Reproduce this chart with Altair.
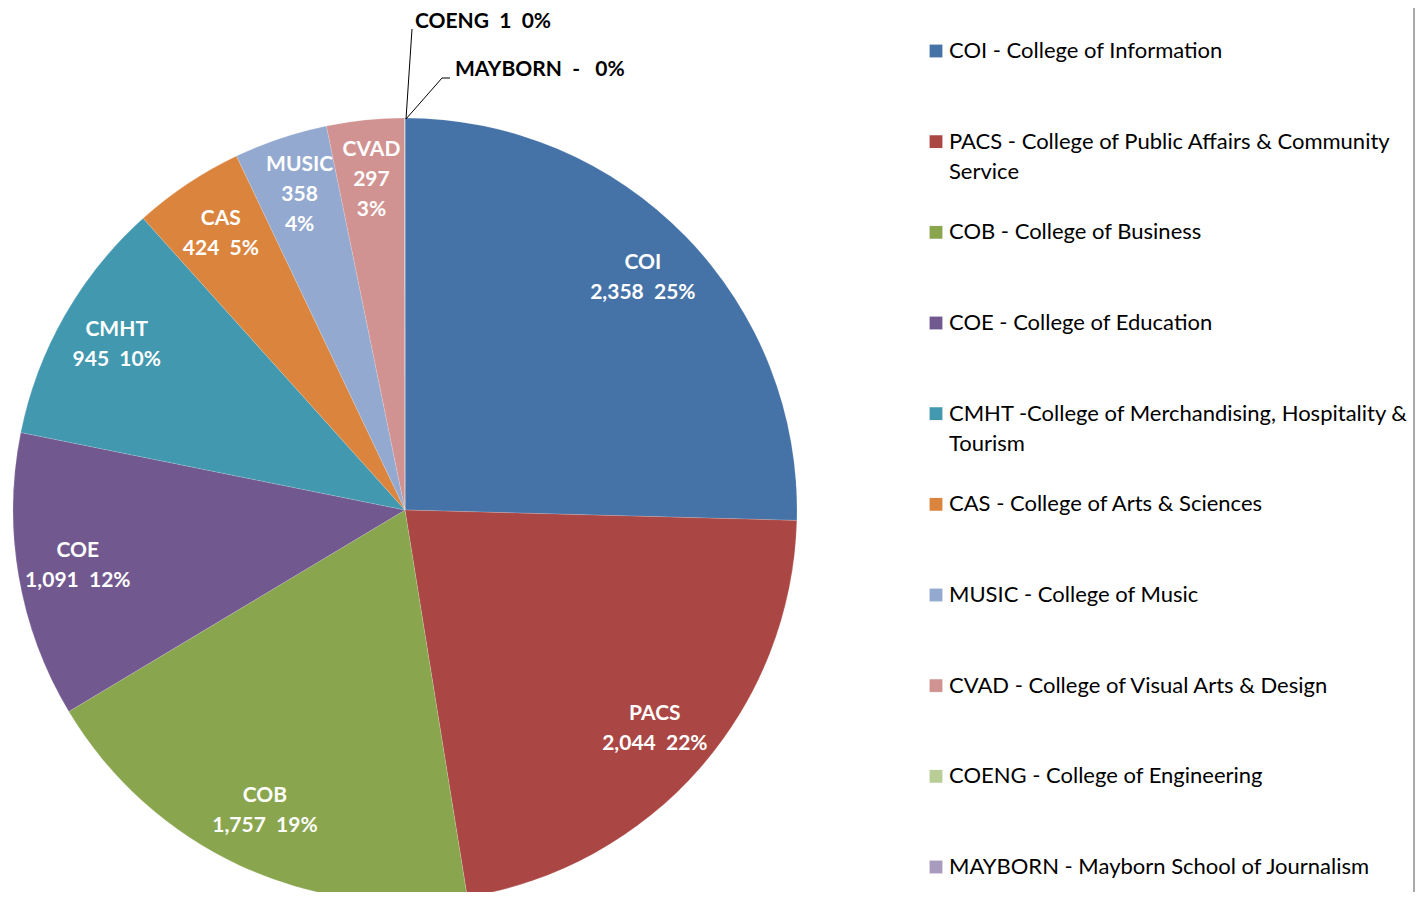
import altair as alt
import pandas as pd

codes = ["COI", "PACS", "COB", "COE", "CMHT", "CAS", "MUSIC", "CVAD", "COENG", "MAYBORN"]
values = [2358, 2044, 1757, 1091, 945, 424, 358, 297, 1, 0]
value_labels = ["2,358", "2,044", "1,757", "1,091", "945", "424", "358", "297", "1", "-"]
pct_labels = ["25%", "22%", "19%", "12%", "10%", "5%", "4%", "3%", "0%", "0%"]
legend_lines = [
    ["COI - College of Information"],
    ["PACS - College of Public Affairs & Community", "Service"],
    ["COB - College of Business"],
    ["COE - College of Education"],
    ["CMHT -College of Merchandising, Hospitality &", "Tourism"],
    ["CAS - College of Arts & Sciences"],
    ["MUSIC - College of Music"],
    ["CVAD - College of Visual Arts & Design"],
    ["COENG - College of Engineering"],
    ["MAYBORN - Mayborn School of Journalism"],
]
colors = ["#4572A7", "#AA4643", "#89A54E", "#71588F", "#4198AF",
          "#DB843D", "#93A9CF", "#D19392", "#B9CD96", "#A99BBD"]
outside = ["COENG", "MAYBORN"]
three_line = ["MUSIC", "CVAD"]

SP = " \u00a0"
W, H = 1409, 884
CX, CY, R = 397, 502, 392
FONT = "Lato"
LH = 30

rows = []
for i, (c, v, vl, p, ll) in enumerate(zip(codes, values, value_labels, pct_labels, legend_lines)):
    if c in outside:
        lines = [""]
    elif c in three_line:
        lines = [c, vl, p]
    else:
        lines = [c, vl + SP + p]
    rows.append({"idx": i, "code": c, "value": v, "lines": lines, "nlines": len(lines),
                 "legend": ll,
                 "outer": c + SP + (vl + SP if vl != "-" else "-" + SP + "\u00a0") + p})
df = pd.DataFrame(rows)

color = alt.Color("code:N", scale=alt.Scale(domain=codes, range=colors), legend=None)

base = alt.Chart(df)

pie = base.mark_arc(outerRadius=R, stroke="white", strokeWidth=0.3, strokeOpacity=0.5).encode(
    theta=alt.Theta("value:Q", stack=True),
    order=alt.Order("idx:Q"),
    color=color,
    x=alt.value(CX), y=alt.value(CY),
)

lab = base.transform_window(
    cum="sum(value)", sort=[alt.SortField("idx")], frame=[None, 0]
).transform_calculate(mid="datum.cum - datum.value / 2")


def label_layer(n):
    return lab.transform_filter(f"datum.nlines == {n} && datum.value > 1").mark_text(
        radius=332, font=FONT, fontSize=21, fontWeight="bold", color="white",
        lineHeight=LH, align="center", baseline="middle", dy=-(n - 1) * LH / 2,
    ).encode(
        theta=alt.Theta("mid:Q", stack=None),
        text="lines:N",
        x=alt.value(CX), y=alt.value(CY),
    )


labels2 = label_layer(2)
labels3 = label_layer(3)

# outside labels for the tiny slices
df_out = df[df["code"].isin(outside)]
txt_kw = dict(font=FONT, fontSize=21, fontWeight="bold", color="black", align="left", baseline="middle")
coeng = alt.Chart(df_out[df_out["code"] == "COENG"]).mark_text(**txt_kw).encode(
    text="outer:N", x=alt.value(CX + 10), y=alt.value(14))
mayborn = alt.Chart(df_out[df_out["code"] == "MAYBORN"]).mark_text(**txt_kw).encode(
    text="outer:N", x=alt.value(CX + 50), y=alt.value(62))

lead1 = alt.Chart(df_out[df_out["code"] == "COENG"]).mark_rule(color="black", strokeWidth=1).encode(
    x=alt.value(CX + 1), y=alt.value(CY - R + 1), x2=alt.value(CX + 7), y2=alt.value(21))
lead2 = alt.Chart(df_out[df_out["code"] == "MAYBORN"]).mark_rule(color="black", strokeWidth=1).encode(
    x=alt.value(CX + 1), y=alt.value(CY - R + 1), x2=alt.value(CX + 37), y2=alt.value(70))
lead3 = alt.Chart(df_out[df_out["code"] == "MAYBORN"]).mark_rule(color="black", strokeWidth=1).encode(
    x=alt.value(CX + 37), y=alt.value(70), x2=alt.value(CX + 45), y2=alt.value(70))

ypos = alt.Y("idx:O", scale=alt.Scale(type="point", range=[43, 859], padding=0), axis=None)

leg_sq = base.mark_square(size=165, opacity=1).encode(
    x=alt.value(928), y=ypos, color=color,
)
leg_txt = base.mark_text(font=FONT, fontSize=22, color="black", align="left",
                         baseline="middle", lineHeight=LH).encode(
    x=alt.value(941), y=ypos, text="legend:N",
)

border = alt.Chart(df.head(1)).mark_rule(color="#8c8c8c", strokeWidth=1.5).encode(
    x=alt.value(1406), y=alt.value(0), y2=alt.value(H))

chart = alt.layer(pie, labels2, labels3, lead1, lead2, lead3, coeng, mayborn,
                  leg_sq, leg_txt, border).properties(
    width=W, height=H, autosize="none", padding=0
).configure_view(stroke=None)

chart.save("out.html", embed_options={"renderer": "svg", "actions": False})
